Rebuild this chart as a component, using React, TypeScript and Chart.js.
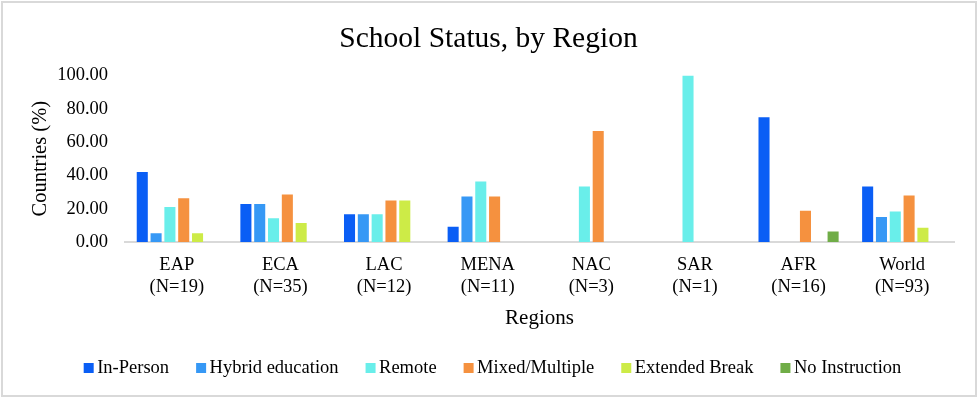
import React, { useEffect, useRef } from "react";
import { Chart, registerables } from "chart.js";

Chart.register(...registerables);

const categories: string[][] = [
  ["EAP", "(N=19)"],
  ["ECA", "(N=35)"],
  ["LAC", "(N=12)"],
  ["MENA", "(N=11)"],
  ["NAC", "(N=3)"],
  ["SAR", "(N=1)"],
  ["AFR", "(N=16)"],
  ["World", "(N=93)"],
];

const seriesNames = ["In-Person", "Hybrid education", "Remote", "Mixed/Multiple", "Extended Break", "No Instruction"];

const inPerson = [42.11, 22.86, 16.67, 9.09, null, null, 75.0, 33.33];
const hybrid = [5.26, 22.86, 16.67, 27.27, null, null, null, 15.05];
const remote = [21.05, 14.29, 16.67, 36.36, 33.33, 100.0, null, 18.28];
const mixed = [26.32, 28.57, 25.0, 27.27, 66.67, null, 18.75, 27.96];
const extendedBreak = [5.26, 11.43, 25.0, null, null, null, null, 8.6];
const noInstruction = [null, null, null, null, null, null, 6.25, null];

const seriesColors = ["#0A5EF5", "#3698F5", "#69EEEA", "#F5913F", "#CDEB47", "#70AD47"];

const chartTitle = "School Status, by Region";

const yMin = 0;
const yMax = 100;
const yStep = 20;

const FONT = "'Liberation Serif', 'Times New Roman', serif";

const titlePlugin = {
  id: "customTitle",
  afterDraw(chart: any) {
    const ctx = chart.ctx;
    ctx.save();
    ctx.font = `29.5px ${FONT}`;
    ctx.fillStyle = "#000";
    ctx.textAlign = "center";
    ctx.textBaseline = "alphabetic";
    ctx.fillText(chartTitle, 488.5, 47);
    ctx.restore();
  },
};

const legendPlugin = {
  id: "customLegend",
  afterDraw(chart: any) {
    const ctx = chart.ctx;
    const size = 18.5;
    const box = 10;
    const gapBoxText = 3.5;
    const gapItems = 27;
    ctx.save();
    ctx.font = `${size}px ${FONT}`;
    const items = chart.data.datasets.map((ds: any) => ({
      text: ds.label,
      color: ds.backgroundColor,
      w: box + gapBoxText + ctx.measureText(ds.label).width,
    }));
    const total = items.reduce((s: number, it: any) => s + it.w, 0) + gapItems * (items.length - 1);
    let x = 492.5 - total / 2;
    const baseline = 373;
    ctx.textBaseline = "alphabetic";
    ctx.textAlign = "left";
    for (const it of items) {
      ctx.fillStyle = it.color;
      ctx.fillRect(x, baseline - box, box, box);
      ctx.fillStyle = "#000";
      ctx.fillText(it.text, x + box + gapBoxText, baseline);
      x += it.w + gapItems;
    }
    ctx.restore();
  },
};

export default function App() {
  const ref = useRef<HTMLCanvasElement | null>(null);

  useEffect(() => {
    if (!ref.current) return;
    const seriesData = [inPerson, hybrid, remote, mixed, extendedBreak, noInstruction];
    const chart = new Chart(ref.current, {
      type: "bar",
      data: {
        labels: categories,
        datasets: seriesNames.map((name, i) => ({
          label: name,
          data: seriesData[i] as any,
          backgroundColor: seriesColors[i],
          borderWidth: 0,
          categoryPercentage: 0.8,
          barPercentage: 0.8,
        })),
      },
      options: {
        animation: false,
        responsive: false,
        devicePixelRatio: 1,
        layout: { padding: { left: 0, right: 25, top: 75.5, bottom: 66 } },
        plugins: {
          legend: { display: false },
          tooltip: { enabled: false },
          title: { display: false },
        },
        scales: {
          x: {
            border: { display: true, color: "#D9D9D9", width: 2 },
            grid: { display: false, drawTicks: false },
            ticks: {
              padding: 12,
              color: "#000",
              font: { family: FONT, size: 18.5 },
              maxRotation: 0,
              autoSkip: false,
            },
            title: {
              display: true,
              text: "Regions",
              color: "#000",
              font: { family: FONT, size: 21 },
              padding: { top: 8, bottom: 0 },
            },
            afterFit: (s: any) => {
              s.height = 89;
            },
          },
          y: {
            min: yMin,
            max: yMax,
            border: { display: false },
            grid: { display: false, drawTicks: false },
            ticks: {
              stepSize: yStep,
              padding: 17,
              color: "#000",
              font: { family: FONT, size: 18.5 },
              callback: (v: any) => Number(v).toFixed(2),
            },
            title: {
              display: true,
              text: "Countries (%)",
              color: "#000",
              font: { family: FONT, size: 20.5 },
              padding: { top: 28.7, bottom: 0 },
            },
            afterFit: (s: any) => {
              s.width = 125;
            },
          },
        },
      } as any,
      plugins: [titlePlugin, legendPlugin],
    });
    return () => chart.destroy();
  }, []);

  return (
    <div style={{ position: "fixed", left: 0, top: 0, width: 979, height: 397, background: "#fff" }}>
      <canvas ref={ref} width={979} height={397} style={{ position: "absolute", left: 0, top: 0, width: 979, height: 397 }} />
      <div
        style={{
          position: "absolute",
          left: 1,
          top: 1,
          width: 976,
          height: 396,
          boxSizing: "border-box",
          border: "2px solid #D9D9D9",
          pointerEvents: "none",
        }}
      />
    </div>
  );
}
